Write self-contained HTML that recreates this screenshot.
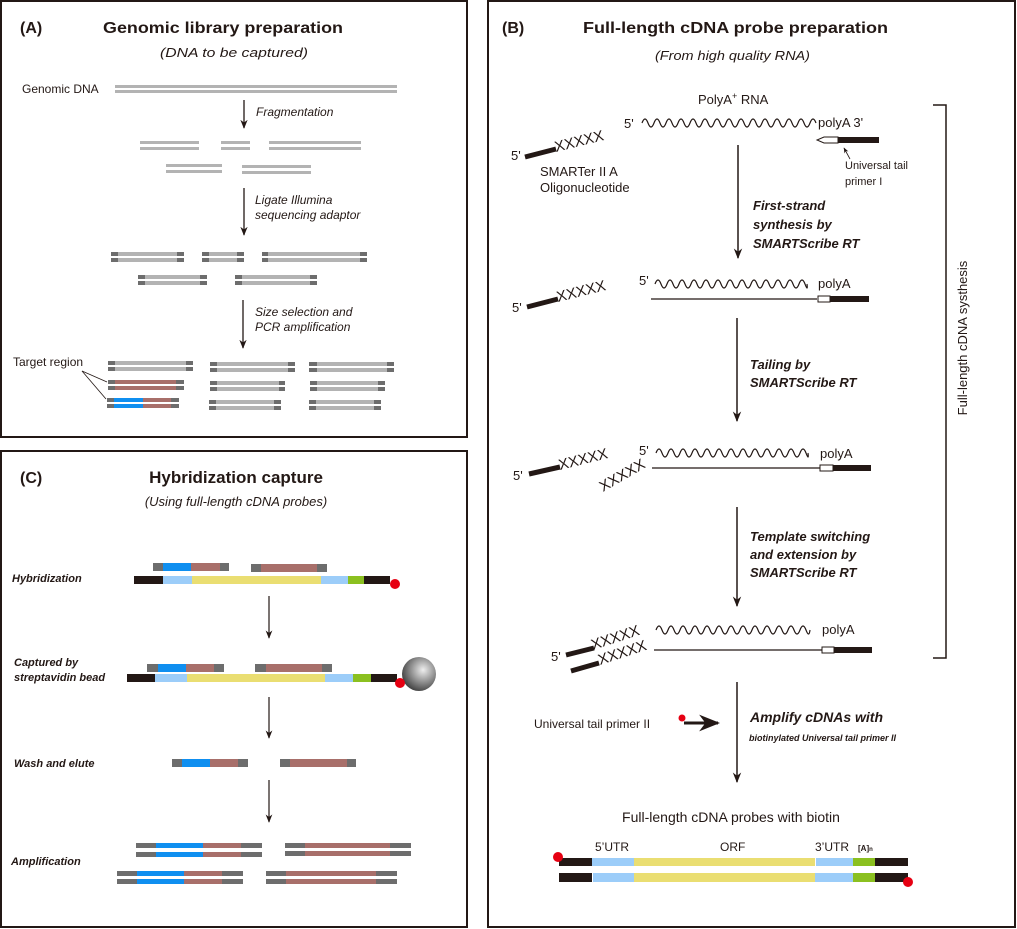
<!DOCTYPE html>
<html><head><meta charset="utf-8"><style>
html,body{margin:0;padding:0;background:#fff}
svg{display:block}
text{font-family:"Liberation Sans",sans-serif;fill:#231815}
.b{font-weight:bold}
.i{font-style:italic}
</style></head><body>
<svg width="1017" height="929" viewBox="0 0 1017 929" xmlns="http://www.w3.org/2000/svg">
<defs>
<marker id="ah" viewBox="0 0 10 10" refX="9" refY="5" markerWidth="7" markerHeight="7" orient="auto-start-reverse"><path d="M0,1 L10,5 L0,9 L3,5 z" fill="#231815"/></marker>
<radialGradient id="bead" cx="0.62" cy="0.38" r="0.65"><stop offset="0" stop-color="#eee"/><stop offset="0.5" stop-color="#999"/><stop offset="1" stop-color="#444"/></radialGradient>
</defs>
<rect x="1" y="1" width="466" height="436" fill="none" stroke="#231815" stroke-width="2"/>
<rect x="1" y="451" width="466" height="476" fill="none" stroke="#231815" stroke-width="2"/>
<rect x="488" y="1" width="527" height="926" fill="none" stroke="#231815" stroke-width="2"/>

<!-- ===== Panel A ===== -->
<text x="20" y="33" class="b" font-size="16">(A)</text>
<text x="103" y="33" class="b" font-size="16" textLength="240" lengthAdjust="spacingAndGlyphs">Genomic library preparation</text>
<text x="160" y="57" class="i" font-size="13" textLength="148" lengthAdjust="spacingAndGlyphs">(DNA to be captured)</text>
<text x="22" y="93" font-size="12">Genomic DNA</text>
<g fill="#b3b3b3">
<rect x="115" y="85" width="282" height="3"/><rect x="115" y="90" width="282" height="3"/>
<rect x="140" y="141" width="59" height="3"/><rect x="140" y="147" width="59" height="3"/>
<rect x="221" y="141" width="29" height="3"/><rect x="221" y="147" width="29" height="3"/>
<rect x="269" y="141" width="92" height="3"/><rect x="269" y="147" width="92" height="3"/>
<rect x="166" y="164" width="56" height="3"/><rect x="166" y="170" width="56" height="3"/>
<rect x="242" y="165" width="69" height="3"/><rect x="242" y="171" width="69" height="3"/>
</g>
<g stroke="#231815" stroke-width="1.3" marker-end="url(#ah)">
<line x1="244" y1="100" x2="244" y2="128"/>
<line x1="244" y1="188" x2="244" y2="235"/>
<line x1="243" y1="300" x2="243" y2="348"/>
</g>
<text x="256" y="116" class="i" font-size="12">Fragmentation</text>
<text x="255" y="204" class="i" font-size="12">Ligate Illumina</text>
<text x="255" y="219" class="i" font-size="12">sequencing adaptor</text>
<text x="255" y="316" class="i" font-size="12">Size selection and</text>
<text x="255" y="331" class="i" font-size="12">PCR amplification</text>
<text x="13" y="366" font-size="12">Target region</text>
<g stroke="#231815" stroke-width="0.8"><line x1="82" y1="371" x2="107" y2="382"/><line x1="82" y1="371" x2="106" y2="399"/></g>
<g>
<g fill="#b3b3b3">
<rect x="111" y="252" width="73" height="4"/><rect x="111" y="258" width="73" height="4"/>
<rect x="202" y="252" width="42" height="4"/><rect x="202" y="258" width="42" height="4"/>
<rect x="262" y="252" width="105" height="4"/><rect x="262" y="258" width="105" height="4"/>
<rect x="138" y="275" width="69" height="4"/><rect x="138" y="281" width="69" height="4"/>
<rect x="235" y="275" width="82" height="4"/><rect x="235" y="281" width="82" height="4"/>
<rect x="108" y="361" width="85" height="4"/><rect x="108" y="367" width="85" height="4"/>
<rect x="210" y="362" width="85" height="4"/><rect x="210" y="368" width="85" height="4"/>
<rect x="309" y="362" width="85" height="4"/><rect x="309" y="368" width="85" height="4"/>
<rect x="210" y="381" width="75" height="4"/><rect x="210" y="387" width="75" height="4"/>
<rect x="310" y="381" width="75" height="4"/><rect x="310" y="387" width="75" height="4"/>
<rect x="209" y="400" width="72" height="4"/><rect x="209" y="406" width="72" height="4"/>
<rect x="309" y="400" width="72" height="4"/><rect x="309" y="406" width="72" height="4"/>
</g>
<g fill="#a86f6a">
<rect x="108" y="380" width="76" height="4"/><rect x="108" y="386" width="76" height="4"/>
<rect x="143" y="398" width="36" height="4"/><rect x="143" y="404" width="36" height="4"/>
</g>
<g fill="#0f8ff0"><rect x="114" y="398" width="29" height="4"/><rect x="114" y="404" width="29" height="4"/></g>
<g fill="#6d6d6d">
<rect x="111" y="252" width="7" height="4"/><rect x="111" y="258" width="7" height="4"/><rect x="177" y="252" width="7" height="4"/><rect x="177" y="258" width="7" height="4"/>
<rect x="202" y="252" width="7" height="4"/><rect x="202" y="258" width="7" height="4"/><rect x="237" y="252" width="7" height="4"/><rect x="237" y="258" width="7" height="4"/>
<rect x="262" y="252" width="6" height="4"/><rect x="262" y="258" width="6" height="4"/><rect x="360" y="252" width="7" height="4"/><rect x="360" y="258" width="7" height="4"/>
<rect x="138" y="275" width="7" height="4"/><rect x="138" y="281" width="7" height="4"/><rect x="200" y="275" width="7" height="4"/><rect x="200" y="281" width="7" height="4"/>
<rect x="235" y="275" width="7" height="4"/><rect x="235" y="281" width="7" height="4"/><rect x="310" y="275" width="7" height="4"/><rect x="310" y="281" width="7" height="4"/>
<rect x="108" y="361" width="7" height="4"/><rect x="108" y="367" width="7" height="4"/><rect x="186" y="361" width="7" height="4"/><rect x="186" y="367" width="7" height="4"/>
<rect x="210" y="362" width="7" height="4"/><rect x="210" y="368" width="7" height="4"/><rect x="288" y="362" width="7" height="4"/><rect x="288" y="368" width="7" height="4"/>
<rect x="309" y="362" width="8" height="4"/><rect x="309" y="368" width="8" height="4"/><rect x="387" y="362" width="7" height="4"/><rect x="387" y="368" width="7" height="4"/>
<rect x="108" y="380" width="7" height="4"/><rect x="108" y="386" width="7" height="4"/><rect x="176" y="380" width="8" height="4"/><rect x="176" y="386" width="8" height="4"/>
<rect x="210" y="381" width="7" height="4"/><rect x="210" y="387" width="7" height="4"/><rect x="279" y="381" width="6" height="4"/><rect x="279" y="387" width="6" height="4"/>
<rect x="310" y="381" width="7" height="4"/><rect x="310" y="387" width="7" height="4"/><rect x="378" y="381" width="7" height="4"/><rect x="378" y="387" width="7" height="4"/>
<rect x="107" y="398" width="7" height="4"/><rect x="107" y="404" width="7" height="4"/><rect x="171" y="398" width="8" height="4"/><rect x="171" y="404" width="8" height="4"/>
<rect x="209" y="400" width="7" height="4"/><rect x="209" y="406" width="7" height="4"/><rect x="274" y="400" width="7" height="4"/><rect x="274" y="406" width="7" height="4"/>
<rect x="309" y="400" width="7" height="4"/><rect x="309" y="406" width="7" height="4"/><rect x="374" y="400" width="7" height="4"/><rect x="374" y="406" width="7" height="4"/>
</g>
</g>

<!-- ===== Panel C ===== -->
<text x="20" y="483" class="b" font-size="16">(C)</text>
<text x="236" y="483" class="b" font-size="17" text-anchor="middle">Hybridization capture</text>
<text x="236" y="506" class="i" font-size="13" text-anchor="middle">(Using full-length cDNA probes)</text>
<text x="12" y="582" class="b i" font-size="11">Hybridization</text>
<text x="14" y="666" class="b i" font-size="11">Captured by</text>
<text x="14" y="681" class="b i" font-size="11">streptavidin bead</text>
<text x="14" y="767" class="b i" font-size="11">Wash and elute</text>
<text x="11" y="865" class="b i" font-size="11">Amplification</text>
<rect x="153" y="563" width="76" height="8" fill="#6d6d6d"/><rect x="163" y="563" width="28" height="8" fill="#0f8ff0"/><rect x="191" y="563" width="29" height="8" fill="#a86f6a"/>
<rect x="251" y="564" width="76" height="8" fill="#6d6d6d"/><rect x="261" y="564" width="56" height="8" fill="#a86f6a"/>
<rect x="134" y="576" width="29" height="8" fill="#231815"/><rect x="163" y="576" width="29" height="8" fill="#9ccdf9"/><rect x="192" y="576" width="129" height="8" fill="#eade72"/><rect x="321" y="576" width="27" height="8" fill="#9ccdf9"/><rect x="348" y="576" width="16" height="8" fill="#8bc020"/><rect x="364" y="576" width="26" height="8" fill="#231815"/>
<circle cx="395" cy="584" r="5" fill="#e60012"/>
<rect x="147" y="664" width="77" height="8" fill="#6d6d6d"/><rect x="158" y="664" width="28" height="8" fill="#0f8ff0"/><rect x="186" y="664" width="28" height="8" fill="#a86f6a"/>
<rect x="255" y="664" width="77" height="8" fill="#6d6d6d"/><rect x="266" y="664" width="56" height="8" fill="#a86f6a"/>
<rect x="127" y="674" width="28" height="8" fill="#231815"/><rect x="155" y="674" width="32" height="8" fill="#9ccdf9"/><rect x="187" y="674" width="138" height="8" fill="#eade72"/><rect x="325" y="674" width="28" height="8" fill="#9ccdf9"/><rect x="353" y="674" width="18" height="8" fill="#8bc020"/><rect x="371" y="674" width="26" height="8" fill="#231815"/>
<circle cx="419" cy="674" r="17" fill="url(#bead)"/>
<circle cx="400" cy="683" r="5" fill="#e60012"/>
<rect x="172" y="759" width="76" height="8" fill="#6d6d6d"/><rect x="182" y="759" width="28" height="8" fill="#0f8ff0"/><rect x="210" y="759" width="28" height="8" fill="#a86f6a"/>
<rect x="280" y="759" width="76" height="8" fill="#6d6d6d"/><rect x="290" y="759" width="57" height="8" fill="#a86f6a"/>
<g>
<rect x="136" y="843" width="126" height="5" fill="#6d6d6d"/><rect x="156" y="843" width="47" height="5" fill="#0f8ff0"/><rect x="203" y="843" width="38" height="5" fill="#a86f6a"/>
<rect x="136" y="852" width="126" height="5" fill="#6d6d6d"/><rect x="156" y="852" width="47" height="5" fill="#0f8ff0"/><rect x="203" y="852" width="38" height="5" fill="#a86f6a"/>
<rect x="285" y="843" width="126" height="5" fill="#6d6d6d"/><rect x="305" y="843" width="85" height="5" fill="#a86f6a"/>
<rect x="285" y="851" width="126" height="5" fill="#6d6d6d"/><rect x="305" y="851" width="85" height="5" fill="#a86f6a"/>
<rect x="117" y="871" width="126" height="5" fill="#6d6d6d"/><rect x="137" y="871" width="47" height="5" fill="#0f8ff0"/><rect x="184" y="871" width="38" height="5" fill="#a86f6a"/>
<rect x="117" y="879" width="126" height="5" fill="#6d6d6d"/><rect x="137" y="879" width="47" height="5" fill="#0f8ff0"/><rect x="184" y="879" width="38" height="5" fill="#a86f6a"/>
<rect x="266" y="871" width="131" height="5" fill="#6d6d6d"/><rect x="286" y="871" width="90" height="5" fill="#a86f6a"/>
<rect x="266" y="879" width="131" height="5" fill="#6d6d6d"/><rect x="286" y="879" width="90" height="5" fill="#a86f6a"/>
</g>
<g stroke="#231815" stroke-width="1.2" marker-end="url(#ah)">
<line x1="269" y1="596" x2="269" y2="638"/>
<line x1="269" y1="697" x2="269" y2="738"/>
<line x1="269" y1="780" x2="269" y2="822"/>
</g>

<!-- ===== Panel B ===== -->
<text x="502" y="33" class="b" font-size="16">(B)</text>
<text x="583" y="33" class="b" font-size="16" textLength="305" lengthAdjust="spacingAndGlyphs">Full-length cDNA probe preparation</text>
<text x="655" y="60" class="i" font-size="13" textLength="155" lengthAdjust="spacingAndGlyphs">(From high quality RNA)</text>

<text x="698" y="104" font-size="13">PolyA<tspan font-size="9" dy="-5">+</tspan><tspan dy="5"> RNA</tspan></text>
<text x="624" y="128" font-size="13">5'</text>
<path d="M642,123 q3,-8 6,0 t6,0 t6,0 t6,0 t6,0 t6,0 t6,0 t6,0 t6,0 t6,0 t6,0 t6,0 t6,0 t6,0 t6,0 t6,0 t6,0 t6,0 t6,0 t6,0 t6,0 t6,0 t6,0 t6,0 t6,0 t6,0 t6,0 t6,0 t6,0" fill="none" stroke="#231815" stroke-width="1.2"/>
<text x="818" y="127" font-size="13">polyA 3'</text>
<path d="M838,137 L824,137 L817,140 L824,143 L838,143 Z" fill="#fff" stroke="#231815" stroke-width="1"/>
<rect x="838" y="137" width="41" height="6" fill="#231815"/>
<line x1="850" y1="159" x2="844" y2="148" stroke="#231815" stroke-width="0.8" marker-end="url(#ah)"/>
<text x="845" y="169" font-size="11">Universal tail</text>
<text x="845" y="185" font-size="11">primer I</text>
<text x="511" y="160" font-size="13">5'</text>
<line x1="525" y1="157" x2="556" y2="149" stroke="#231815" stroke-width="5"/>
<text x="556" y="152" font-size="15" transform="rotate(-14 556 152)">XXXXX</text>
<text x="540" y="176" font-size="13">SMARTer II A</text>
<text x="540" y="192" font-size="13">Oligonucleotide</text>
<g stroke="#231815" stroke-width="1.5" marker-end="url(#ah)">
<line x1="738" y1="145" x2="738" y2="258"/>
<line x1="737" y1="318" x2="737" y2="421"/>
<line x1="737" y1="507" x2="737" y2="606"/>
<line x1="737" y1="682" x2="737" y2="782"/>
</g>
<text x="753" y="210" class="b i" font-size="13">First-strand</text>
<text x="753" y="229" class="b i" font-size="13">synthesis by</text>
<text x="753" y="248" class="b i" font-size="13">SMARTScribe RT</text>

<text x="512" y="312" font-size="13">5'</text>
<line x1="527" y1="307" x2="558" y2="299" stroke="#231815" stroke-width="5"/>
<text x="558" y="302" font-size="15" transform="rotate(-14 558 302)">XXXXX</text>
<text x="639" y="285" font-size="13">5'</text>
<path d="M655,284 q3,-8 6,0 t6,0 t6,0 t6,0 t6,0 t6,0 t6,0 t6,0 t6,0 t6,0 t6,0 t6,0 t6,0 t6,0 t6,0 t6,0 t6,0 t6,0 t6,0 t6,0 t6,0 t6,0 t6,0 t6,0 t6,0 t2,0" fill="none" stroke="#231815" stroke-width="1.2"/>
<text x="818" y="288" font-size="13">polyA</text>
<line x1="651" y1="299" x2="817" y2="299" stroke="#231815" stroke-width="1.2"/>
<rect x="818" y="296" width="12" height="6" fill="#fff" stroke="#231815" stroke-width="1"/>
<rect x="830" y="296" width="39" height="6" fill="#231815"/>
<text x="750" y="369" class="b i" font-size="13">Tailing by</text>
<text x="750" y="387" class="b i" font-size="13">SMARTScribe RT</text>

<text x="513" y="480" font-size="13">5'</text>
<line x1="529" y1="474" x2="560" y2="467" stroke="#231815" stroke-width="5"/>
<text x="560" y="470" font-size="15" transform="rotate(-14 560 470)">XXXXX</text>
<text x="639" y="455" font-size="13">5'</text>
<path d="M656,453 q3,-8 6,0 t6,0 t6,0 t6,0 t6,0 t6,0 t6,0 t6,0 t6,0 t6,0 t6,0 t6,0 t6,0 t6,0 t6,0 t6,0 t6,0 t6,0 t6,0 t6,0 t6,0 t6,0 t6,0 t6,0 t6,0 t2,0" fill="none" stroke="#231815" stroke-width="1.2"/>
<text x="820" y="458" font-size="13">polyA</text>
<line x1="652" y1="468" x2="820" y2="468" stroke="#231815" stroke-width="1.2"/>
<text x="603" y="492" font-size="15" transform="rotate(-30 603 492)">XXXXX</text>
<rect x="820" y="465" width="13" height="6" fill="#fff" stroke="#231815" stroke-width="1"/>
<rect x="833" y="465" width="38" height="6" fill="#231815"/>
<text x="750" y="541" class="b i" font-size="13">Template switching</text>
<text x="750" y="559" class="b i" font-size="13">and extension by</text>
<text x="750" y="577" class="b i" font-size="13">SMARTScribe RT</text>

<text x="551" y="661" font-size="13">5'</text>
<line x1="566" y1="655" x2="594" y2="648" stroke="#231815" stroke-width="5"/>
<line x1="571" y1="671" x2="599" y2="663" stroke="#231815" stroke-width="5"/>
<text x="593" y="650" font-size="15" transform="rotate(-18 593 650)">XXXXX</text>
<text x="600" y="665" font-size="15" transform="rotate(-18 600 665)">XXXXX</text>
<path d="M656,630 q3,-8 6,0 t6,0 t6,0 t6,0 t6,0 t6,0 t6,0 t6,0 t6,0 t6,0 t6,0 t6,0 t6,0 t6,0 t6,0 t6,0 t6,0 t6,0 t6,0 t6,0 t6,0 t6,0 t6,0 t6,0 t6,0 t4,0" fill="none" stroke="#231815" stroke-width="1.2"/>
<text x="822" y="634" font-size="13">polyA</text>
<line x1="654" y1="650" x2="822" y2="650" stroke="#231815" stroke-width="1.2"/>
<rect x="822" y="647" width="12" height="6" fill="#fff" stroke="#231815" stroke-width="1"/>
<rect x="834" y="647" width="38" height="6" fill="#231815"/>

<text x="534" y="728" font-size="12">Universal tail primer II</text>
<line x1="684" y1="723" x2="718" y2="723" stroke="#231815" stroke-width="3" marker-end="url(#ah)"/>
<circle cx="682" cy="718" r="3.5" fill="#e60012"/>
<text x="750" y="722" class="b i" font-size="14">Amplify cDNAs with</text>
<text x="749" y="741" class="b i" font-size="9">biotinylated Universal tail primer II</text>

<text x="731" y="822" font-size="14" text-anchor="middle">Full-length cDNA probes with biotin</text>
<text x="595" y="851" font-size="12">5’UTR</text>
<text x="720" y="851" font-size="12">ORF</text>
<text x="815" y="851" font-size="12">3’UTR</text>
<text x="858" y="851" font-size="8" class="b">[A]<tspan font-size="6">n</tspan></text>
<g>
<rect x="559" y="858" width="33" height="8" fill="#231815"/><rect x="592" y="858" width="42" height="8" fill="#9ccdf9"/><rect x="634" y="858" width="181" height="8" fill="#eade72"/><rect x="816" y="858" width="37" height="8" fill="#9ccdf9"/><rect x="853" y="858" width="22" height="8" fill="#8bc020"/><rect x="875" y="858" width="33" height="8" fill="#231815"/>
<rect x="559" y="873" width="33" height="9" fill="#231815"/><rect x="593" y="873" width="41" height="9" fill="#9ccdf9"/><rect x="634" y="873" width="181" height="9" fill="#eade72"/><rect x="815" y="873" width="38" height="9" fill="#9ccdf9"/><rect x="853" y="873" width="22" height="9" fill="#8bc020"/><rect x="875" y="873" width="33" height="9" fill="#231815"/>
<circle cx="558" cy="857" r="5" fill="#e60012"/>
<circle cx="908" cy="882" r="5" fill="#e60012"/>
</g>

<path d="M933,105 H946 V658 H933" fill="none" stroke="#231815" stroke-width="1.5"/>
<text x="0" y="0" font-size="13" text-anchor="middle" transform="translate(967 338) rotate(-90)">Full-length cDNA systhesis</text>
</svg>
</body></html>
